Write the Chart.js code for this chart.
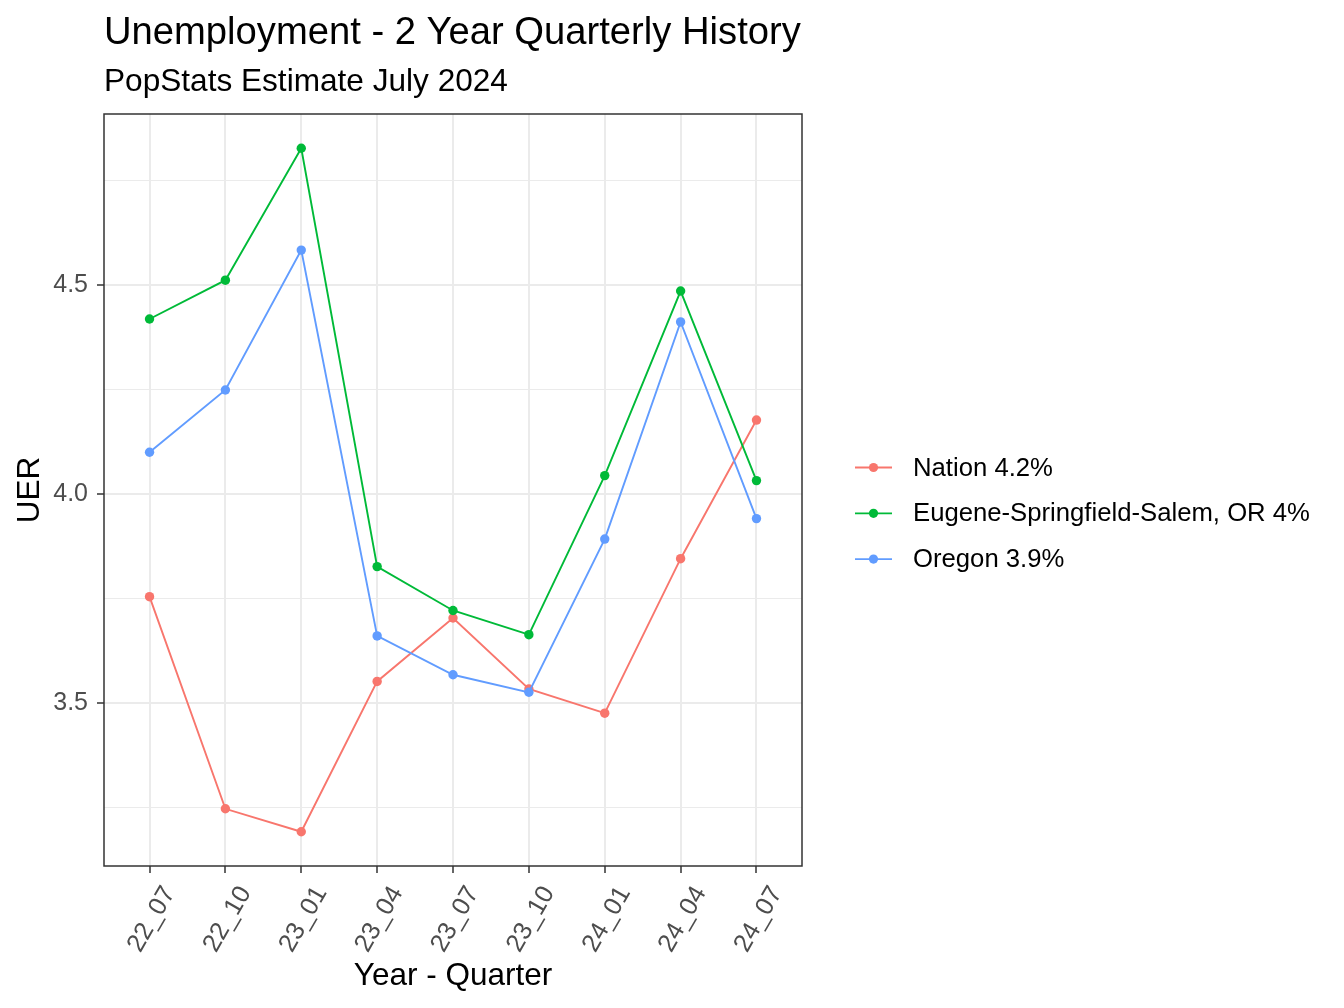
<!DOCTYPE html>
<html><head><meta charset="utf-8">
<script src="https://cdn.jsdelivr.net/npm/chart.js@4.4.1/dist/chart.umd.min.js"></script>
<style>html,body{margin:0;padding:0;background:#fff;} #wrap{width:1344px;height:1008px;position:relative;}</style>
</head><body><div id="wrap"><canvas id="c"></canvas></div>
<script>
const quarters = ['22_07','22_10','23_01','23_04','23_07','23_10','24_01','24_04','24_07'];
const nation = [3.754,3.246,3.191,3.551,3.703,3.533,3.475,3.845,4.177];
const eugene = [4.419,4.512,4.828,3.826,3.721,3.663,4.044,4.486,4.032];
const oregon = [4.100,4.249,4.584,3.660,3.567,3.525,3.892,4.412,3.941];
const seriesNames = ['Nation 4.2%','Eugene-Springfield-Salem, OR 4%','Oregon 3.9%'];
const seriesColors = ['#F8766D','#00BA38','#619CFF'];
const yTicks = [3.25,3.5,3.75,4.0,4.25,4.5,4.75];
const yMajor = [3.5,4.0,4.5];
const titleText = 'Unemployment - 2 Year Quarterly History';
const subtitleText = 'PopStats Estimate July 2024';
const xTitle = 'Year - Quarter';
const yTitle = 'UER';

const FONT = '"Liberation Sans", Arial, sans-serif';
Chart.defaults.font.family = FONT;

const decor = {
  id: 'decor',
  afterDraw(chart) {
    const {ctx, chartArea: a} = chart;
    ctx.save();
    ctx.strokeStyle = '#333333'; ctx.lineWidth = 1.5;
    ctx.strokeRect(a.left, a.top, a.right - a.left, a.bottom - a.top);
    ctx.fillStyle = '#000'; ctx.textAlign = 'left'; ctx.textBaseline = 'alphabetic';
    ctx.font = '38.2px ' + FONT; ctx.fillText(titleText, a.left, 44);
    ctx.font = '31.6px ' + FONT; ctx.fillText(subtitleText, a.left, 91);
    const lx = a.right + 53, top = 467.5, step = 45.8;
    seriesNames.forEach((name, i) => {
      const y = top + i * step;
      ctx.strokeStyle = seriesColors[i]; ctx.lineWidth = 1.8;
      ctx.beginPath(); ctx.moveTo(lx, y); ctx.lineTo(lx + 37, y); ctx.stroke();
      ctx.fillStyle = seriesColors[i];
      ctx.beginPath(); ctx.arc(lx + 18.5, y, 4.6, 0, Math.PI * 2); ctx.fill();
      ctx.fillStyle = '#000'; ctx.font = '25.7px ' + FONT; ctx.textBaseline = 'middle';
      ctx.fillText(name, lx + 58, y + 1);
    });
    ctx.restore();
  }
};

const mk = vals => vals.map((v, i) => ({x: i, y: v}));
const series = [nation, eugene, oregon];
const isMajor = c => c && c.tick && yMajor.includes(c.tick.value);

new Chart(document.getElementById('c'), {
  type: 'line',
  data: {
    datasets: series.map((vals, i) => ({
      label: seriesNames[i],
      data: mk(vals),
      borderColor: seriesColors[i],
      backgroundColor: seriesColors[i],
      borderWidth: 1.9,
      pointRadius: 4.7,
      pointBorderWidth: 0,
      pointBackgroundColor: seriesColors[i],
      tension: 0,
      order: 2 - i
    }))
  },
  options: {
    responsive: true,
    maintainAspectRatio: false,
    animation: false,
    events: [],
    layout: {padding: {top: 114, right: 542, bottom: 0, left: 0}},
    plugins: {legend: {display: false}, title: {display: false}, tooltip: {enabled: false}},
    scales: {
      x: {
        type: 'linear', min: -0.6, max: 8.6,
        afterBuildTicks: s => { s.ticks = quarters.map((q, i) => ({value: i})); },
        afterFit: s => { s.height = 142; },
        ticks: {
          callback: v => quarters[v],
          minRotation: 60, maxRotation: 60, autoSkip: false,
          color: '#4D4D4D', font: {size: 25.5}, padding: 8, labelOffset: 20
        },
        grid: {color: '#EBEBEB', lineWidth: 2, drawTicks: true, tickLength: 7, tickColor: '#333333', tickWidth: 1.5},
        border: {display: false},
        title: {display: true, text: xTitle, color: '#000', font: {size: 31.5}, padding: {top: 0, bottom: 13}}
      },
      y: {
        type: 'linear', min: 3.109, max: 4.910,
        afterBuildTicks: s => { s.ticks = yTicks.map(v => ({value: v})); },
        afterFit: s => { s.width = 104; },
        ticks: {
          callback: v => yMajor.includes(v) ? v.toFixed(1) : '',
          color: '#4D4D4D', font: {size: 25}, padding: 9
        },
        grid: {
          color: '#EBEBEB',
          lineWidth: c => isMajor(c) ? 2 : 1,
          tickColor: c => isMajor(c) ? '#333333' : 'rgba(0,0,0,0)',
          tickLength: 7, tickWidth: 1.5
        },
        border: {display: false},
        title: {display: true, text: yTitle, color: '#000', font: {size: 31.5}, padding: {top: 11, bottom: 0}}
      }
    }
  },
  plugins: [decor]
});
</script>
</body></html>
